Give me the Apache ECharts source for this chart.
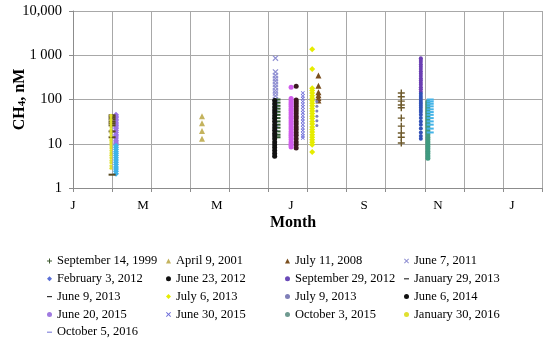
<!DOCTYPE html>
<html><head><meta charset="utf-8">
<script src="https://cdn.jsdelivr.net/npm/echarts@6/dist/echarts.min.js"></script>
<style>html,body{margin:0;padding:0;background:#fff}#c{width:550px;height:341px}</style>
</head><body><div id="c"></div>
<script>
// ---- data ----
const seriesNames = [
  'September 14, 1999','April 9, 2001','July 11, 2008','June 7, 2011',
  'February 3, 2012','June 23, 2012','September 29, 2012','January 29, 2013',
  'June 9, 2013','July 6, 2013','July 9, 2013','June 6, 2014',
  'June 20, 2015','June 30, 2015','October 3, 2015','January 30, 2016',
  'October 5, 2016'
];
// x position of each sampling date, in months from January 1
const xMonth = [8.40, 3.30, 6.28, 5.18, 1.10, 5.71, 8.90, 1.00, 5.22, 6.12, 6.24, 5.16, 5.58, 5.88, 9.08, 0.97, 9.14];

const v_sep1999 = [140, 115, 92, 75, 65, 38, 25, 17.5, 14, 10.4];
const v_apr2001 = [42, 29, 19.5, 13];
const v_jul2008 = [350, 205, 145, 125, 108, 95];
const v_jun2011 = [860, 420, 350, 300, 260, 220, 190, 160, 140, 120, 100, 85, 70, 60, 50, 42, 35, 28, 22, 18];
const v_feb2012 = [45, 42, 39, 36, 33, 30, 28, 26, 24, 22, 20, 18, 16, 15, 13.5, 12, 11, 10, 9, 8.2, 7.4, 6.6, 6, 5.4, 4.8, 4.3, 3.8, 3.4, 3, 2.7, 2.4, 2.1];
const v_jun2012 = [200, 98, 88, 79, 70, 62, 55, 48, 42, 37, 32, 28, 24, 21, 18, 15.5, 13, 11, 9.5, 8];
const v_sep2012 = [860, 780, 700, 620, 550, 490, 430, 380, 340, 300, 270, 240, 215, 190, 170, 150, 135, 120, 108, 97, 88, 80, 72, 65, 58, 52, 45, 38, 32, 27, 22, 18, 15, 13];
const v_jan2013 = [44, 40, 36, 32, 29, 26, 19, 14, 2];
const v_jun2013 = [100, 85, 72, 62, 53, 45, 38, 32, 27, 23, 19, 16, 14];
const v_jul2013a = [1370, 490, 180, 160, 140, 122, 107, 94, 82, 72, 63, 55, 48, 42, 37, 32, 28, 24, 21, 18.5, 16, 14, 12.3, 10.8, 9.5, 6.5];
const v_jul2013b = [90, 70, 55, 42, 33, 26];
const v_jun2014 = [95, 80, 68, 58, 50, 43, 37, 32, 27, 23, 20, 17, 15, 13, 11, 9.5, 8.2, 7, 6, 5.2];
const v_jun2015a = [190, 105, 95, 86, 78, 70, 63, 57, 51, 46, 41, 37, 33, 30, 27, 24, 21.5, 19, 17, 15.5, 14, 12.5, 11, 10, 9.2, 8.4];
const v_jun2015b = [140, 120, 105, 90, 78, 68, 58, 50, 43, 37, 32, 27, 23, 20, 17, 15, 13.5];
const v_oct2015 = [88, 78, 69, 61, 54, 48, 42, 37, 33, 29, 26, 23, 20, 18, 16, 14, 12.5, 11, 9.8, 8.7, 7.7, 6.8, 6, 5.3, 4.7];
const v_jan2016 = [44, 40, 36, 33, 30, 27, 24, 21, 19, 17, 15, 13, 12, 11, 10, 9, 8, 7, 6.2, 5.5, 4.8, 4.2, 3.7, 3.2, 2.8];
const v_oct2016 = [100, 90, 80, 70, 60, 52, 45, 38, 32, 27, 22, 18];

const seriesValues = [v_sep1999, v_apr2001, v_jul2008, v_jun2011, v_feb2012, v_jun2012, v_sep2012, v_jan2013,
  v_jun2013, v_jul2013a, v_jul2013b, v_jun2014, v_jun2015a, v_jun2015b, v_oct2015, v_jan2016, v_oct2016];

const monthLabels = ['J', 'M', 'M', 'J', 'S', 'N', 'J'];
const monthLabelPos = [0, 1.79, 3.68, 5.58, 7.45, 9.34, 11.23];
const yTickValues = [1, 10, 100, 1000, 10000];
const yTickLabels = ['1', '10', '100', '1 000', '10,000'];

// ---- styles ----
const PLUS = 'path://M4,0H6V4H10V6H6V10H4V6H0V4H4Z';
const CROSS = 'path://M1.4,0L5,3.6L8.6,0L10,1.4L6.4,5L10,8.6L8.6,10L5,6.4L1.4,10L0,8.6L3.6,5L0,1.4Z';
const DASH_ICON = 'path://M0,0H10V2.4H0Z';
const styles = [
  {symbol: PLUS, size: 7, color: '#6e5a2c', legendColor: '#3f5a30', icon: PLUS},
  {symbol: 'triangle', size: 6, color: '#c4b35e', icon: 'triangle'},
  {symbol: 'triangle', size: 6, color: '#7a4f1e', icon: 'triangle'},
  {symbol: CROSS, size: 6, color: '#8f8fd2', icon: CROSS},
  {symbol: 'diamond', size: 6, color: p => (p.value[1] >= 10 ? '#9a74e4' : '#3fb2e8'), legendColor: '#5a6fd6', icon: 'diamond'},
  {symbol: 'circle', size: 5, color: '#3a1a1e', legendColor: '#111', icon: 'circle'},
  {symbol: 'circle', size: 4, color: p => (p.value[1] >= 140 ? '#6b3fb3' : '#3352b8'), legendColor: '#6a4ab8', icon: 'circle'},
  {symbol: 'rect', size: [7, 2], color: '#5a4a20', legendColor: '#333', icon: DASH_ICON},
  {symbol: 'rect', size: [7, 2], color: '#2f5a30', legendColor: '#333', icon: DASH_ICON},
  {symbol: 'diamond', size: 6, color: '#e6ec00', icon: 'diamond'},
  {symbol: 'circle', size: 3, color: '#7f7fb8', icon: 'circle'},
  {symbol: 'circle', size: 5, color: '#111111', icon: 'circle'},
  {symbol: 'circle', size: 5, color: '#d05cec', legendColor: '#a07ae0', icon: 'circle'},
  {symbol: CROSS, size: 4, color: '#6a6ad8', icon: CROSS},
  {symbol: 'circle', size: 5, color: '#3f9a80', legendColor: '#6f9a90', icon: 'circle'},
  {symbol: 'circle', size: 3, color: '#e0e030', icon: 'circle'},
  {symbol: 'rect', size: [7, 2], color: '#45b4e8', legendColor: '#8888dd', icon: DASH_ICON}
];

const series = seriesNames.map((name, i) => ({
  name: name,
  type: 'scatter',
  symbol: styles[i].symbol,
  symbolSize: styles[i].size,
  itemStyle: {color: styles[i].color, opacity: 1},
  data: seriesValues[i].map(v => [xMonth[i], v]),
  animation: false
}));

const columns = [[0, 4, 8, 12, 16], [1, 5, 9, 13], [2, 6, 10, 14], [3, 7, 11, 15]];
const colLeft = [47, 166, 285, 404];
const legends = columns.map((col, k) => ({
  orient: 'vertical',
  left: colLeft[k],
  top: 254,
  padding: 0,
  itemGap: 3.8,
  itemWidth: 5,
  itemHeight: 5,
  symbolKeepAspect: true,
  selectedMode: false,
  textStyle: {fontFamily: 'Liberation Serif', fontSize: 12.5, color: '#000', lineHeight: 14},
  data: col.map(i => {
    const s = styles[i];
    const c = s.legendColor || s.color;
    return {name: seriesNames[i], icon: s.icon, itemStyle: {color: c, borderWidth: 0}};
  })
}));

const chart = echarts.init(document.getElementById('c'), null, {renderer: 'canvas'});
chart.setOption({
  backgroundColor: '#fff',
  animation: false,
  grid: {left: 73, right: 8, top: 11, bottom: 153, containLabel: false, outerBoundsMode: 'none'},
  xAxis: {
    type: 'value', min: 0, max: 12, interval: 1,
    axisLine: {show: true, lineStyle: {color: '#8c8c8c', width: 1}},
    axisTick: {show: true, length: 4, inside: false, lineStyle: {color: '#8c8c8c'}},
    splitLine: {show: true, lineStyle: {color: '#a8a8a8', width: 1}},
    axisLabel: {
      customValues: monthLabelPos,
      formatter: v => {
        let best = 0;
        monthLabelPos.forEach((p, j) => { if (Math.abs(p - v) < Math.abs(monthLabelPos[best] - v)) best = j; });
        return monthLabels[best];
      },
      fontFamily: 'Liberation Serif', fontSize: 13, color: '#000', margin: 11
    }
  },
  yAxis: {
    type: 'log', logBase: 10, min: 1, max: 10000,
    name: 'CH{sub|4}, nM',
    nameLocation: 'middle', nameRotate: 90, nameGap: 45, nameMoveOverlap: false,
    nameTextStyle: {
      fontFamily: 'Liberation Serif', fontSize: 16, fontWeight: 'bold', color: '#000',
      rich: {sub: {fontFamily: 'Liberation Serif', fontSize: 11, fontWeight: 'bold', verticalAlign: 'bottom', padding: [6, 0, 0, 0]}}
    },
    axisLine: {show: true, lineStyle: {color: '#8c8c8c', width: 1}},
    axisTick: {show: true, length: 4, lineStyle: {color: '#8c8c8c'}},
    splitLine: {show: true, lineStyle: {color: '#a8a8a8', width: 1}},
    axisLabel: {
      formatter: v => { const j = yTickValues.indexOf(Math.round(v)); return j >= 0 ? yTickLabels[j] : ''; },
      fontFamily: 'Liberation Serif', fontSize: 14.5, color: '#000', margin: 11
    }
  },
  legend: legends,
  graphic: [{
    type: 'text', x: 293, y: 223,
    style: {text: 'Month', fontFamily: 'Liberation Serif', fontSize: 16, fontWeight: 'bold', fill: '#000', textAlign: 'center', textVerticalAlign: 'middle'}
  }],
  series: series
});
</script>
</body></html>
